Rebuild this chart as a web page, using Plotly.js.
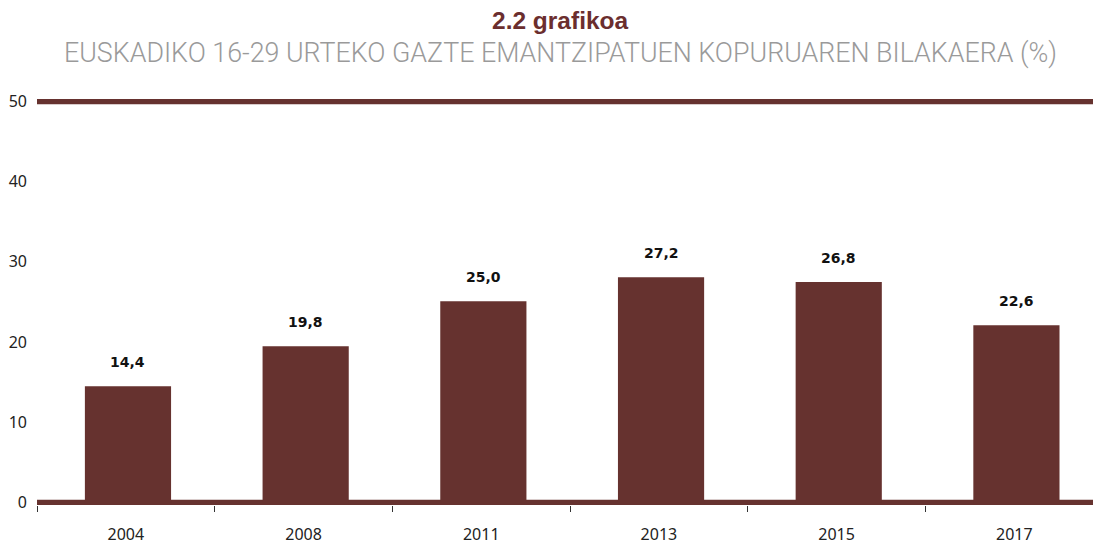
<!DOCTYPE html>
<html>
<head>
<meta charset="utf-8">
<script src="https://cdn.plot.ly/plotly-3.0.1.min.js"></script>
<style>html,body{margin:0;padding:0;background:#fff;}#chart{width:1093px;height:548px;}</style>
</head>
<body>
<div id="chart"></div>
<script>
var years = ['2004', '2008', '2011', '2013', '2015', '2017'];
var barValues = [14.5, 19.5, 25.1, 28.1, 27.5, 22.1];
var barLabels = ['14,4', '19,8', '25,0', '27,2', '26,8', '22,6'];
var yTicks = [0, 10, 20, 30, 40, 50];

var maroon = '#66322F';
var barWidth = 0.485;
var barShift = 0.012;

var trace = {
  type: 'bar',
  x: years,
  y: barValues,
  width: barWidth,
  offset: -barWidth / 2 + barShift,
  marker: {color: maroon, line: {width: 0}},
  hoverinfo: 'skip'
};

var annotations = years.map(function (yr, i) {
  return {
    x: i + barShift, y: barValues[i], xref: 'x', yref: 'y',
    text: '<b>' + barLabels[i] + '</b>', showarrow: false,
    yanchor: 'middle', yshift: 24,
    font: {family: 'DejaVu Sans', size: 14, color: '#111111'}
  };
});

annotations.push({
  xref: 'paper', yref: 'paper', x: (560 - 37) / 1056, y: 1, yanchor: 'middle',
  yshift: 98.6 - 20, showarrow: false,
  text: '<b>2.2 grafikoa</b>',
  font: {family: 'Liberation Sans', size: 24.5, color: '#6B2E2E'}
});
annotations.push({
  xref: 'paper', yref: 'paper', x: (560 - 37) / 1056, y: 1, yanchor: 'middle',
  yshift: 98.6 - 52.5, showarrow: false,
  text: 'EUSKADIKO 16-29 URTEKO GAZTE EMANTZIPATUEN KOPURUAREN BILAKAERA (%)',
  font: {family: 'Roboto', size: 26.8, color: '#9A9A9A', weight: 300}
});

var layout = {
  width: 1093, height: 548,
  margin: {l: 37, r: 0, t: 98.6, b: 43.1, pad: 0},
  paper_bgcolor: '#ffffff', plot_bgcolor: '#ffffff',
  showlegend: false,
  xaxis: {
    type: 'category', range: [-0.5, 5.443],
    tickson: 'boundaries', ticks: 'outside', ticklen: 6, tickwidth: 1, tickcolor: '#333333',
    showgrid: false, zeroline: false, showline: false,
    ticklabelstandoff: 18,
    tickfont: {family: 'Noto Sans', size: 16, color: '#222222'},
    fixedrange: true
  },
  yaxis: {
    range: [-0.3, 50.3], tickvals: yTicks, ticktext: yTicks.map(String),
    showgrid: false, zeroline: false, showline: false, ticks: '',
    ticklabelstandoff: 9,
    tickfont: {family: 'Noto Sans', size: 16, color: '#222222'},
    fixedrange: true
  },
  shapes: [
    {type: 'line', xref: 'paper', yref: 'y', x0: 0, x1: 1, y0: 0, y1: 0,
     line: {color: maroon, width: 5.5}, layer: 'below'},
    {type: 'line', xref: 'paper', yref: 'y', x0: 0, x1: 1, y0: 50, y1: 50,
     line: {color: maroon, width: 5.5}, layer: 'below'}
  ],
  annotations: annotations
};

Plotly.newPlot('chart', [trace], layout, {displayModeBar: false, staticPlot: true});
</script>
</body>
</html>
